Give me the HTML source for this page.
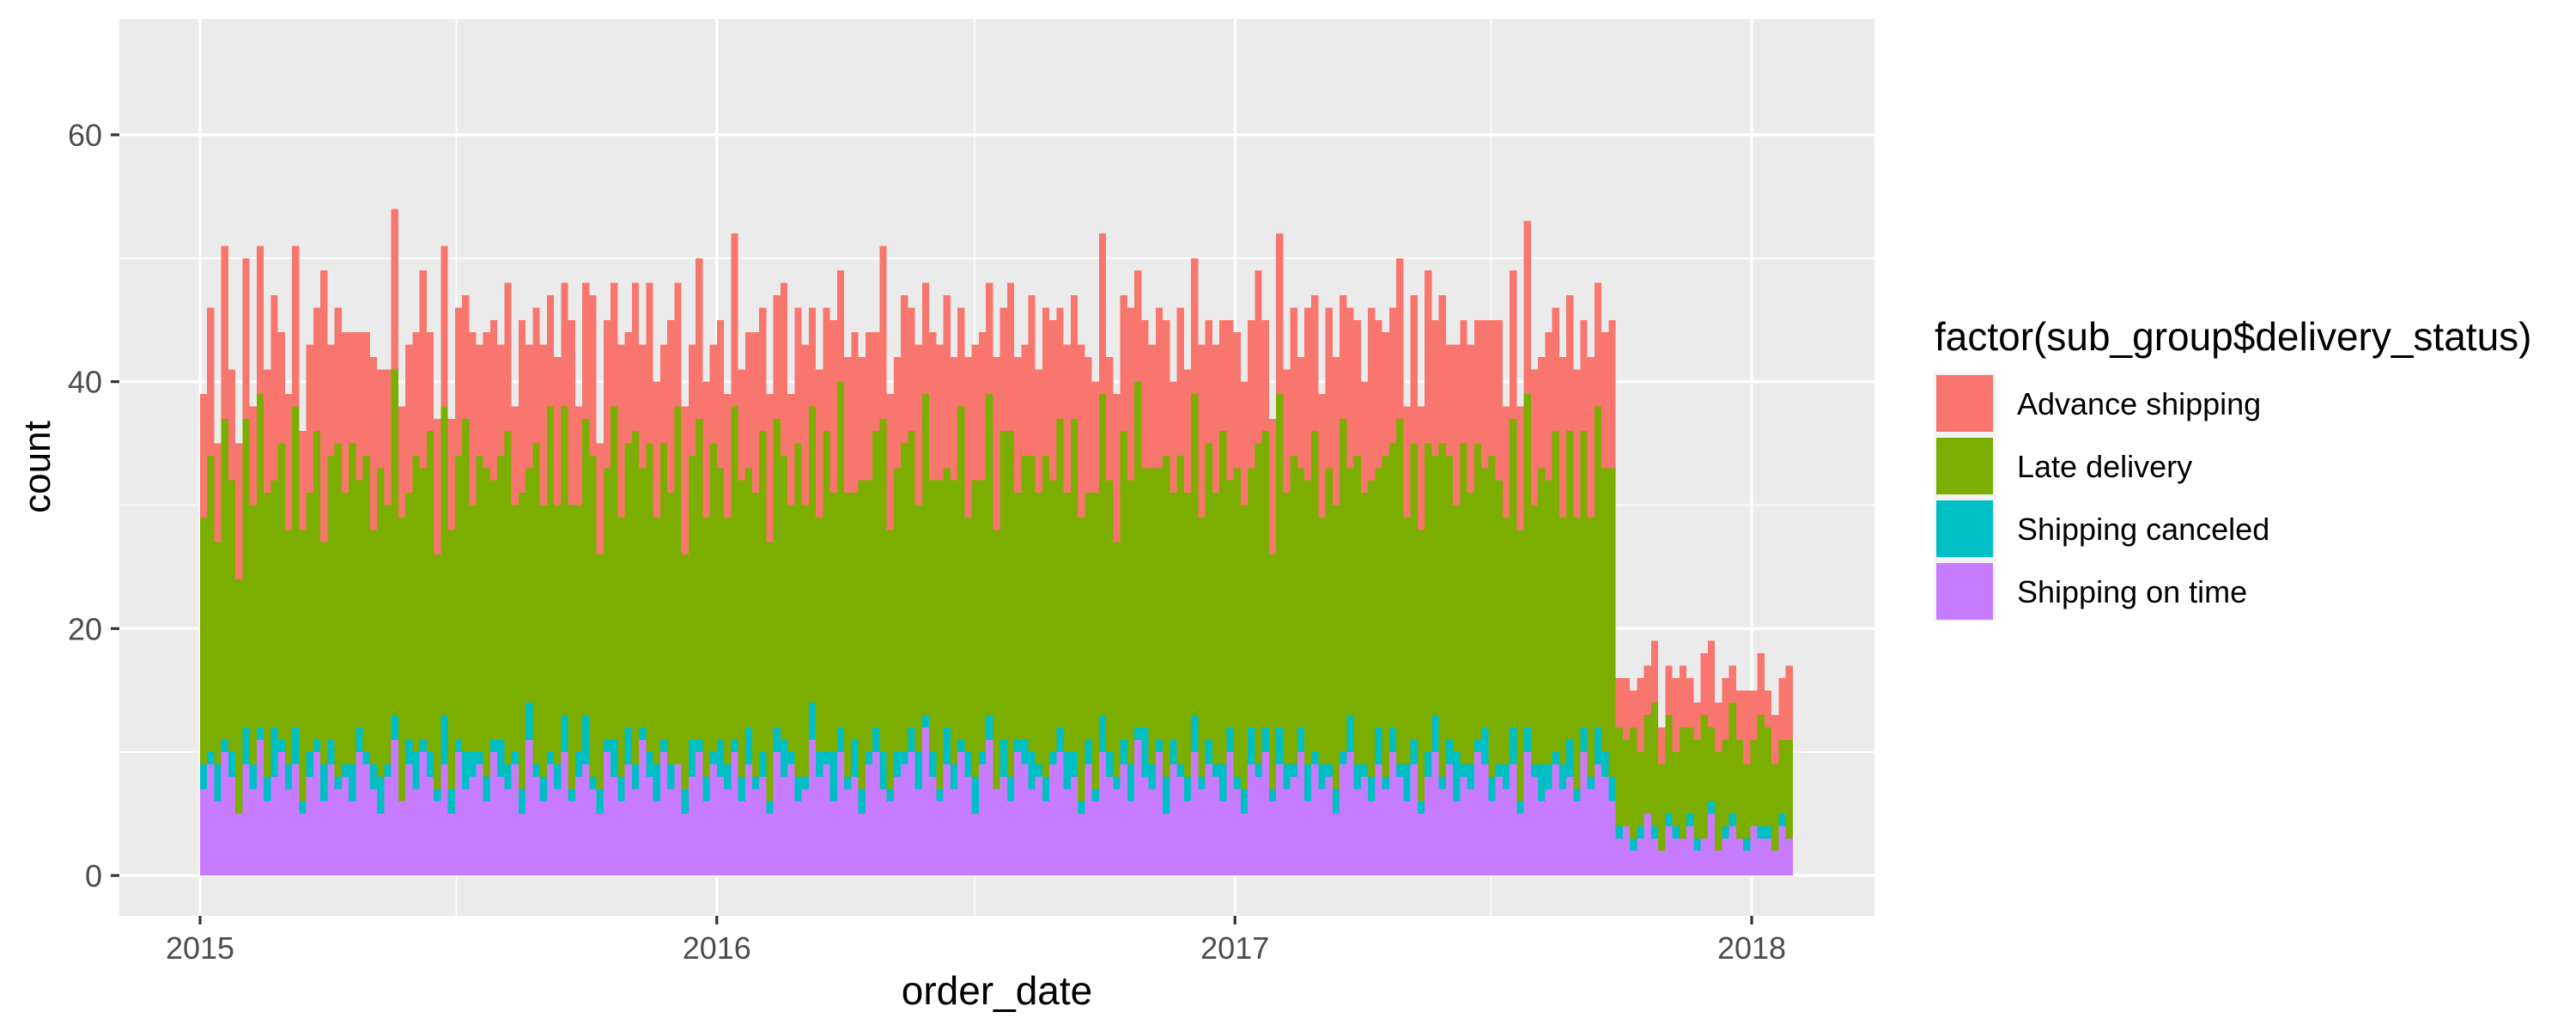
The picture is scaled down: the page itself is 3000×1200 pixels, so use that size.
<!DOCTYPE html>
<html><head><meta charset="utf-8"><style>
html,body{margin:0;padding:0;background:#fff;}
svg{display:block;font-family:"Liberation Sans",sans-serif;}
</style></head><body>
<svg id="chart" width="3000" height="1200" viewBox="0 0 3000 1200" xmlns="http://www.w3.org/2000/svg">
<rect x="139" y="22" width="2044" height="1045" fill="#ebebeb"/>
<g id="grid"></g>
<g id="bars" shape-rendering="crispEdges"></g>
<g id="axes"></g>
<text transform="translate(58,544) rotate(-90)" text-anchor="middle" font-size="44" fill="#000">count</text>
<text x="1161" y="1170" text-anchor="middle" font-size="46" fill="#000">order_date</text>
<g>
<text x="2253" y="408" font-size="46" fill="#000">factor(sub_group$delivery_status)</text>
<rect x="2252" y="434" width="72" height="290" fill="#f2f2f2"/>
<g><rect x="2255" y="437" width="66" height="66" fill="#F8766D"/><text x="2349" y="483" font-size="36" fill="#000">Advance shipping</text></g>
<g><rect x="2255" y="510" width="66" height="66" fill="#7CAE00"/><text x="2349" y="556" font-size="36" fill="#000">Late delivery</text></g>
<g><rect x="2255" y="583" width="66" height="66" fill="#00BFC4"/><text x="2349" y="629" font-size="36" fill="#000">Shipping canceled</text></g>
<g><rect x="2255" y="656" width="66" height="66" fill="#C77CFF"/><text x="2349" y="702" font-size="36" fill="#000">Shipping on time</text></g>
</g>
</svg>
<script>
const binDays = 5;
const yTicks = [0, 20, 40, 60];
const yMinor = [10, 30, 50];
const xTickLabels = ["2015", "2016", "2017", "2018"];
const xTickDays = [0, 365, 731, 1096];
const xMinorDays = [181, 547, 912];
const onTime = [
7,9,6,10,8,5,9,7,11,6,8,10,7,9,5,8,10,6,9,7,
8,6,10,9,7,5,8,11,6,9,7,10,8,6,9,5,10,7,8,9,
6,10,8,7,9,5,11,8,6,9,7,10,6,8,9,7,5,10,8,6,
9,7,11,8,6,10,7,9,5,8,10,6,9,8,7,10,6,9,7,8,
5,10,8,9,6,7,11,8,9,6,10,7,8,5,9,10,7,6,8,9,
10,7,12,8,6,9,7,10,8,5,9,11,7,8,6,10,9,7,8,6,
9,10,7,8,5,9,6,10,8,7,9,6,11,8,7,10,5,9,8,6,
10,7,9,8,6,10,7,5,9,8,10,6,9,7,8,10,6,9,7,8,
5,9,10,7,8,6,9,7,10,8,6,9,5,8,10,7,9,6,8,7,
10,9,6,8,7,9,5,10,8,6,7,9,7,8,6,10,7,9,8,6,
3,4,2,3,5,3,2,4,3,3,4,2,3,5,2,3,4,3,2,4,3,3,2,4,3];
const canceled = [
2,1,3,1,2,0,3,2,1,2,4,1,2,3,1,2,1,3,2,1,
1,3,2,1,2,3,1,2,0,2,3,1,2,1,4,2,1,3,2,1,
2,1,3,2,1,2,3,1,2,1,2,3,1,2,4,1,2,1,3,2,
3,2,1,2,3,1,2,0,2,3,1,2,1,3,2,1,2,3,1,2,
1,2,3,1,2,1,3,2,1,4,2,1,3,2,1,2,3,1,2,1,
2,3,1,2,1,3,2,1,2,3,1,2,0,3,2,1,2,3,1,2,
1,2,3,2,1,2,1,3,2,1,2,3,1,4,2,1,3,2,1,2,
3,1,2,1,3,2,1,2,3,1,2,1,3,2,1,2,3,1,2,1,
2,1,3,2,1,2,3,1,2,1,3,2,1,2,3,1,2,4,1,2,
1,3,2,1,2,3,1,2,1,3,2,1,2,3,1,2,1,3,2,2,
1,0,1,1,0,1,0,1,1,0,1,1,0,1,0,1,1,0,1,0,1,1,0,1,0];
const late = [
20,24,18,26,22,19,25,21,27,23,20,24,19,26,22,21,25,18,23,27,
22,26,20,24,19,25,21,28,23,20,24,22,26,19,25,21,23,27,20,24,
25,21,23,27,20,24,19,26,22,28,21,25,23,20,24,26,19,22,27,21,
23,27,21,25,20,24,22,29,19,23,26,21,25,22,20,27,24,21,23,26,
21,25,23,20,27,22,24,19,26,21,28,23,20,25,22,24,27,21,23,25,
24,20,26,22,25,21,23,27,19,24,22,26,21,25,28,20,23,24,22,26,
22,25,21,27,23,20,24,26,22,19,25,23,28,21,24,22,26,20,25,23,
26,21,24,22,27,20,25,23,21,26,24,19,27,22,25,21,23,26,20,24,
23,27,20,25,22,24,21,26,23,28,20,24,22,25,21,27,23,20,26,22,
24,21,26,23,20,25,22,27,21,24,23,26,20,25,22,24,21,26,23,25,
8,7,9,6,8,10,7,8,6,9,7,8,10,6,8,7,9,8,6,7,9,8,7,6,8];
const advance = [
10,12,8,14,9,11,13,8,12,10,15,9,11,13,8,12,10,22,9,11,
13,9,12,10,14,8,11,13,9,12,10,16,8,11,13,9,12,10,14,9,
11,13,9,12,8,14,10,11,13,9,12,10,15,8,11,13,9,12,10,14,
9,12,10,13,11,8,14,10,12,9,13,11,8,12,10,14,9,11,13,10,
12,10,14,9,11,13,8,12,10,14,9,11,13,10,12,8,14,11,9,12,
10,13,9,12,11,14,10,8,13,11,12,9,14,10,12,11,9,13,10,12,
13,9,12,10,14,11,9,13,10,12,11,14,9,12,10,13,11,9,12,10,
11,14,10,12,9,13,11,10,12,14,9,11,13,10,12,9,14,11,10,13,
12,10,13,11,9,14,12,10,11,13,9,12,10,14,11,12,9,13,10,12,
10,12,11,13,9,12,10,14,11,9,12,10,13,11,12,9,13,10,11,12,
4,5,3,6,4,5,3,4,6,5,4,3,5,7,4,5,3,4,6,4,5,3,4,5,6];

const NS = "http://www.w3.org/2000/svg";
const PL = 139, PR = 2183, PT = 22, PB = 1067;
const x0 = 233, pxPerDay = (2040 - 233) / 1096;
const yZero = 1020, pxPerUnit = (1020 - 157) / 60;
function xScale(d) { return x0 + d * pxPerDay; }
function yScale(v) { return yZero - v * pxPerUnit; }
function mk(tag, attrs, parent) {
  const e = document.createElementNS(NS, tag);
  for (const k in attrs) e.setAttribute(k, attrs[k]);
  parent.appendChild(e);
  return e;
}
const grid = document.getElementById('grid');
const bars = document.getElementById('bars');
const axes = document.getElementById('axes');
yMinor.forEach(v => {
  const l = mk('line', {x1: PL, x2: PR, y1: yScale(v), y2: yScale(v), stroke: '#fff', 'stroke-width': 1.6}, grid);
  
  
});
xMinorDays.forEach(d => {
  const l = mk('line', {x1: xScale(d), x2: xScale(d), y1: PT, y2: PB, stroke: '#fff', 'stroke-width': 1.6}, grid);
  
  
});
yTicks.forEach(v => {
  const l = mk('line', {x1: PL, x2: PR, y1: yScale(v), y2: yScale(v), stroke: '#fff', 'stroke-width': 3.2}, grid);
  
  
  const t = mk('line', {x1: PL - 10, x2: PL, y1: yScale(v), y2: yScale(v), stroke: '#333', 'stroke-width': 3.2}, axes);
  
  
  const tx = mk('text', {x: PL - 20, y: yScale(v) + 13, 'text-anchor': 'end', 'font-size': 36, fill: '#4d4d4d'}, axes);
  tx.textContent = v;
  
  
});
xTickDays.forEach((d, i) => {
  const l = mk('line', {x1: xScale(d), x2: xScale(d), y1: PT, y2: PB, stroke: '#fff', 'stroke-width': 3.2}, grid);
  
  
  const t = mk('line', {x1: xScale(d), x2: xScale(d), y1: PB, y2: PB + 10, stroke: '#333', 'stroke-width': 3.2}, axes);
  
  
  const tx = mk('text', {x: xScale(d), y: PB + 50, 'text-anchor': 'middle', 'font-size': 36, fill: '#4d4d4d'}, axes);
  tx.textContent = xTickLabels[i];
  
  
});
const series = [
  {vals: onTime, color: '#C77CFF', name: 'bar-on-time'},
  {vals: canceled, color: '#00BFC4', name: 'bar-canceled'},
  {vals: late, color: '#7CAE00', name: 'bar-late'},
  {vals: advance, color: '#F8766D', name: 'bar-advance'}
];
for (let i = 0; i < onTime.length; i++) {
  let base = 0;
  const xa = xScale(i * binDays), xb = xScale((i + 1) * binDays);
  series.forEach(s => {
    const v = s.vals[i];
    if (v > 0) {
      const r = mk('rect', {x: xa, y: yScale(base + v), width: xb - xa, height: yScale(base) - yScale(base + v), fill: s.color}, bars);
      
      
    }
    base += v;
  });
}
</script>
</body></html>
